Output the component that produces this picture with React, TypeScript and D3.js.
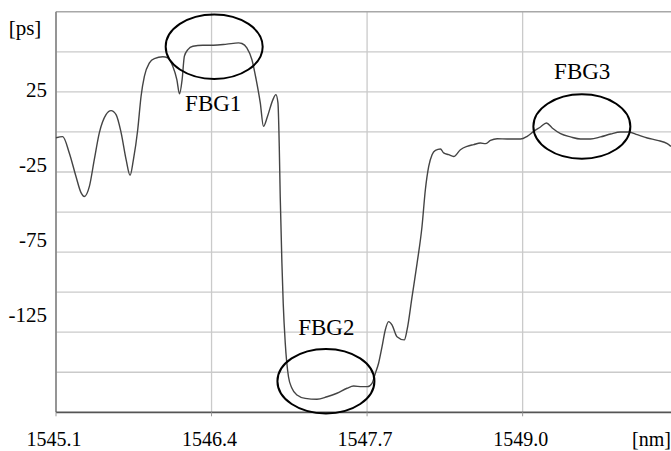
import * as d3 from "d3";

// group delay trace
const wavelength = [
  1545.1, 1545.156, 1545.211, 1545.267, 1545.309, 1545.337, 1545.379, 1545.42,
  1545.462, 1545.518, 1545.56, 1545.602, 1545.644, 1545.686, 1545.719, 1545.747,
  1545.783, 1545.811, 1545.839, 1545.881, 1545.922, 1545.993, 1546.034, 1546.076,
  1546.11, 1546.132, 1546.154, 1546.173, 1546.202, 1546.244, 1546.327, 1546.416,
  1546.528, 1546.625, 1546.654, 1546.695, 1546.737, 1546.773, 1546.807, 1546.834,
  1546.868, 1546.913, 1546.938, 1546.955, 1546.966, 1546.974, 1546.988, 1546.999,
  1547.016, 1547.043, 1547.072, 1547.114, 1547.183, 1547.281, 1547.365, 1547.448,
  1547.532, 1547.587, 1547.657, 1547.704, 1547.741, 1547.769, 1547.796, 1547.825,
  1547.852, 1547.88, 1547.908, 1547.95, 1548.011, 1548.034, 1548.076, 1548.118,
  1548.159, 1548.187, 1548.215, 1548.243, 1548.271, 1548.313, 1548.34, 1548.382,
  1548.424, 1548.48, 1548.536, 1548.591, 1548.647, 1548.689, 1548.731, 1548.787,
  1548.871, 1548.982, 1549.038, 1549.093, 1549.149, 1549.199, 1549.247, 1549.317,
  1549.4, 1549.484, 1549.567, 1549.651, 1549.735, 1549.818, 1549.888, 1549.958,
  1550.042, 1550.126, 1550.209, 1550.239,
];
const delay = [
  -3.6, -2.9, -13.1, -27.8, -37.9, -40.3, -34.0, -17.3,
  -0.6, 10.8, 13.3, 10.8, -0.4, -17.3, -27.1, -17.3,
  1.4, 22.3, 34.8, 43.1, 45.8, 46.9, 46.3, 41.0,
  32.7, 23.8, 32.7, 47.3, 51.4, 53.5, 54.1, 54.1,
  54.8, 55.6, 55.2, 52.5, 45.2, 32.7, 18.3, 3.5,
  9.8, 20.2, 23.3, 18.1, -9.0, -40.3, -81.7, -106.9,
  -131.7, -152.8, -160.0, -164.2, -166.3, -166.9, -165.3, -163.1,
  -160.0, -158.6, -159.0, -159.0, -156.9, -150.6, -144.4, -134.0,
  -123.6, -118.4, -120.4, -127.8, -129.8, -123.6, -102.8, -81.9,
  -59.0, -36.1, -21.5, -14.2, -11.5, -10.6, -13.1, -14.2,
  -15.3, -11.1, -9.0, -7.9, -6.9, -7.3, -5.3, -4.2,
  -4.4, -4.4, -2.7, 0.4, 3.1, 5.6, 2.5, -1.1,
  -3.1, -4.4, -4.4, -3.1, -1.3, 0, 0, -1.7,
  -3.75, -5.25, -7.3, -9.0,
];

const xTicks = [1545.1, 1546.4, 1547.7, 1549.0];
const yGrid = [-150, -125, -100, -75, -50, -25, 0, 25, 50];
const yLabels = [25, -25, -75, -125];

const fbgNames = ["FBG1", "FBG2", "FBG3"];
const fbgCx = [1546.422, 1547.356, 1549.495];
const fbgCy = [53.2, -155.6, 3.4];
const fbgLabelX = [1546.414, 1547.359, 1549.498];
const fbgLabelY = [13.3, -126.7, 33.3];

const W = 671;
const H = 451;
const left = 56;
const right = 671;
const top = 11.8;
const bottom = 412.3;
const serif = { fontFamily: '"Liberation Serif", "Times New Roman", Times, serif' };

export default function App() {
  const x = d3.scaleLinear().domain([1545.1, 1550.24]).range([left, right]);
  const y = d3.scaleLinear().domain([-175, 75]).range([bottom, top]);
  // the source's y tick labels sit on a slightly tighter spacing than its grid
  const yLab = d3.scaleLinear().domain([25, -125]).range([96.7, 321.7]);

  const pts = wavelength.map((w, i) => [w, delay[i]] as [number, number]);
  const line = d3
    .line<[number, number]>()
    .x((d) => x(d[0]))
    .y((d) => y(d[1]))
    .curve(d3.curveMonotoneX);

  return (
    <svg
      width={W}
      height={H}
      style={{ position: "absolute", left: 0, top: 0, background: "#fff" }}
    >
      <rect x={left} y={top} width={right - left} height={bottom - top} fill="#fff" />
      {yGrid.map((v) => (
        <line key={v} x1={left} x2={right} y1={y(v)} y2={y(v)} stroke="#cacaca" strokeWidth={1.3} />
      ))}
      {xTicks.slice(1).map((v) => (
        <line key={v} x1={x(v)} x2={x(v)} y1={top} y2={bottom} stroke="#cacaca" strokeWidth={1.3} />
      ))}
      <line x1={left} x2={right} y1={top} y2={top} stroke="#a8a8a8" strokeWidth={1.5} />
      <line x1={left} x2={left} y1={top} y2={bottom} stroke="#8a8a8a" strokeWidth={1.8} />
      <line x1={left} x2={right} y1={bottom} y2={bottom} stroke="#555" strokeWidth={1.8} />
      {xTicks.map((v) => (
        <line key={v} x1={x(v)} x2={x(v)} y1={bottom} y2={bottom + 4} stroke="#999" strokeWidth={1} />
      ))}

      <path d={line(pts) || undefined} fill="none" stroke="#444" strokeWidth={1.4} />

      {fbgNames.map((n, i) => (
        <g key={n}>
          <ellipse cx={x(fbgCx[i])} cy={y(fbgCy[i])} rx={48.5} ry={32.2} fill="none" stroke="#000" strokeWidth={2} />
          <text x={x(fbgLabelX[i])} y={y(fbgLabelY[i])} textAnchor="middle" fontSize={23} fill="#000" style={serif}>
            {n}
          </text>
        </g>
      ))}

      {yLabels.map((v) => (
        <text key={v} x={47} y={yLab(v)} textAnchor="end" fontSize={21} fill="#000" style={serif}>
          {v}
        </text>
      ))}
      <text x={25} y={35} textAnchor="middle" fontSize={21} fill="#000" style={serif}>
        [ps]
      </text>

      {xTicks.map((v) => (
        <text key={v} x={x(v) - 2} y={446} textAnchor="middle" fontSize={20} fill="#000" style={serif}>
          {v.toFixed(1)}
        </text>
      ))}
      <text x={632} y={446} fontSize={20} fill="#000" style={serif}>
        [nm]
      </text>
    </svg>
  );
}
